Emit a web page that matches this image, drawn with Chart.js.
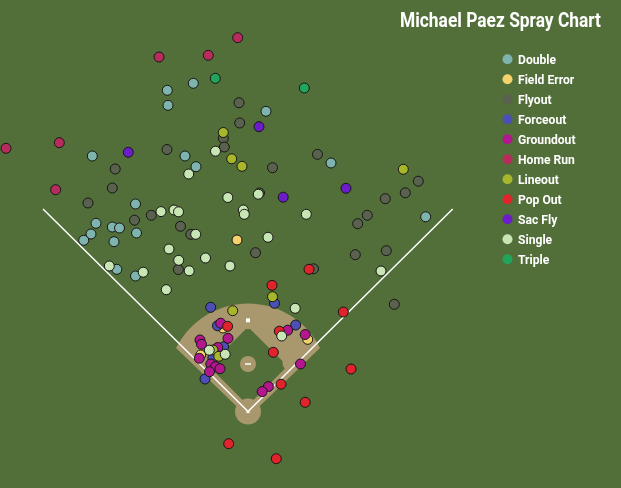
<!DOCTYPE html>
<html>
<head>
<meta charset="utf-8">
<script src="https://cdn.jsdelivr.net/npm/chart.js@4.4.1/dist/chart.umd.min.js"></script>
<style>
  html, body { margin: 0; padding: 0; background: #526f39; }
  #wrap { position: relative; width: 621px; height: 488px; }
</style>
</head>
<body>
<div id="wrap"><canvas id="spray"></canvas></div>
<script>
// hit locations in chart coordinates (x right, y down, home plate at 248,411.5)
const double = [[193.3,83.3],[167.3,90.3],[168,105.3],[266,111.3],[92.3,156],[185,156],[196,166.7],[135.5,204],[96,223.3],[112.3,227],[119.5,228],[91,234],[83.7,240.3],[114,241.7],[136.5,233],[116.8,269.3],[135.5,276],[331,163],[425.7,216.8]];
const fieldError = [[237,240],[223,328],[200.7,355],[307.7,339.3]];
const flyout = [[239,102.7],[239.7,123],[223.3,138.3],[224.3,147],[167,149.5],[272.5,167.7],[317.5,154.3],[115.2,169],[112.3,188],[88,203],[151.3,215.3],[134.5,220.2],[180.5,226.3],[190.8,234.3],[259.5,193],[255.5,252.7],[178.3,269.5],[313.5,268.8],[418.3,181.2],[405.3,192.8],[385.3,198.7],[367.3,215.3],[357.7,223.7],[355.3,254.7],[386.3,250.7],[394.3,304.3]];
const forceout = [[210.7,307.3],[274.5,303.3],[295.7,325],[217.5,325.8],[223.7,346.7],[212.8,358.3],[205,379]];
const groundout = [[220.7,323.2],[228,338.3],[200,340],[201.5,344.3],[217.7,347.5],[199.3,358.3],[210.8,364],[215.5,366.7],[220,368.7],[209.5,371.7],[287.7,330.2],[305.2,334.5],[300.5,364],[268.4,386.6],[262.2,391.6]];
const homeRun = [[237.7,37.7],[159,57],[208.3,55.3],[6,148.3],[59.3,142.7],[55.7,189.7]];
const lineout = [[223.3,132.5],[231.7,158.8],[242,166.3],[403.3,169.3],[272.5,296.7],[232.7,310.7],[213,350],[218.8,356.3]];
const popOut = [[309,269.3],[272,285.3],[227.6,326.3],[279.3,331.2],[273.3,352.3],[281,384.2],[305.2,402.3],[351,369],[343.3,312],[228.7,443.7],[276.3,458.7]];
const sacFly = [[259,126.7],[128.3,152.3],[283.2,197.2],[346,188.3]];
const single = [[215.5,151.2],[188.7,174],[227.8,197.5],[258.3,194.2],[161,211.6],[174,210],[178.5,211.8],[306.3,214.3],[243.3,210],[244.3,214.3],[195.7,234.3],[268,237.3],[169,249],[178.7,260.3],[205.5,258],[230,266],[189.2,270.8],[109.3,266],[143.2,272.2],[166.3,289.7],[381,271],[295.2,308.3],[281.7,336],[209.3,350.2],[225.2,354.3]];
const triple = [[215.3,78.3],[304.3,88]];

const labels = ['Double', 'Field Error', 'Flyout', 'Forceout', 'Groundout', 'Home Run', 'Lineout', 'Pop Out', 'Sac Fly', 'Single', 'Triple'];
const series = [double, fieldError, flyout, forceout, groundout, homeRun, lineout, popOut, sacFly, single, triple];
const colors = ['#7fb4ae', '#f6d26c', '#5a624f', '#4b4fb6', '#b2178e', '#b82c5d', '#a8b62b', '#e1232b', '#6c1dc9', '#c8e6b4', '#21a55c'];

const GRASS = '#526f39';
const DIRT = '#a9976e';

// field layout in the same coordinates as the hits
const home = [248, 411.5];
const second = [248, 320.3];
const mound = [248, 364];
const arcCenter = [248, 384];
const arcRadius = 80.5;
const leftPole = [43, 209];
const rightPole = [452.7, 209];

const fieldPlugin = {
  id: 'field',
  beforeDraw(chart) {
    const ctx = chart.ctx;
    ctx.save();
    ctx.fillStyle = GRASS;
    ctx.fillRect(0, 0, chart.width, chart.height);
    ctx.restore();
  },
  beforeDatasetsDraw(chart) {
    const {ctx, scales: {x, y}} = chart;
    const px = v => x.getPixelForValue(v);
    const py = v => y.getPixelForValue(v);
    const len = d => Math.abs(x.getPixelForValue(d) - x.getPixelForValue(0));
    ctx.save();

    // outer dirt: arc + strips along the foul lines
    const r = len(arcRadius), cx = px(arcCenter[0]), cy = py(arcCenter[1]);
    const a0 = Math.atan2(-36, -72), a1 = Math.atan2(-36, 72);
    ctx.fillStyle = DIRT;
    ctx.beginPath();
    ctx.moveTo(px(home[0]), py(home[1] + 5.7));
    ctx.lineTo(cx + r * Math.cos(a0), cy + r * Math.sin(a0));
    ctx.arc(cx, cy, r, a0, a1, false);
    ctx.closePath();
    ctx.fill();

    // infield grass
    ctx.fillStyle = GRASS;
    ctx.beginPath();
    ctx.moveTo(px(248), py(327));
    ctx.lineTo(px(287.5), py(366));
    ctx.lineTo(px(248), py(405.5));
    ctx.lineTo(px(208.5), py(366));
    ctx.closePath();
    ctx.fill();

    // base cutouts, mound, home circle
    ctx.fillStyle = DIRT;
    [[second, 9], [[291, 363], 8.5], [[205, 363], 8.5], [mound, 8], [home, 13]].forEach(([c, rad]) => {
      ctx.beginPath();
      ctx.arc(px(c[0]), py(c[1]), len(rad), 0, Math.PI * 2);
      ctx.fill();
    });

    // foul lines
    ctx.strokeStyle = '#ffffff';
    ctx.lineWidth = 1.5;
    ctx.beginPath();
    ctx.moveTo(px(leftPole[0]), py(leftPole[1]));
    ctx.lineTo(px(home[0]), py(home[1]));
    ctx.lineTo(px(rightPole[0]), py(rightPole[1]));
    ctx.stroke();

    // bases and rubber
    ctx.fillStyle = '#ffffff';
    ctx.fillRect(px(second[0]) - 2, py(second[1]) - 2, 4, 4);
    ctx.fillRect(px(mound[0]) - 3, py(mound[1]) - 0.75, 6, 1.5);
    ctx.fillRect(px(home[0]) - 1.5, py(home[1]) - 1.5, 3, 3);
    ctx.restore();
  }
};

function squeezedText(ctx, text, x, y, scaleX) {
  ctx.save();
  ctx.translate(x, y);
  ctx.scale(scaleX, 1);
  ctx.fillText(text, 0, 0);
  ctx.restore();
}

const legendPlugin = {
  id: 'sprayLegend',
  afterDraw(chart) {
    const ctx = chart.ctx;
    ctx.save();
    ctx.fillStyle = '#ffffff';
    ctx.textBaseline = 'alphabetic';
    ctx.font = 'bold 21px Roboto, "Noto Sans", sans-serif';
    const title = 'Michael Paez Spray Chart';
    squeezedText(ctx, title, 400, 26.5, 201 / ctx.measureText(title).width);

    ctx.font = 'bold 13.5px Roboto, "Noto Sans", sans-serif';
    const sx = 57.5 / ctx.measureText('Groundout').width;
    chart.data.datasets.forEach((ds, i) => {
      const cy = 59.3 + i * 20;
      ctx.fillStyle = ds.backgroundColor;
      ctx.beginPath();
      ctx.arc(507.5, cy, 5, 0, Math.PI * 2);
      ctx.fill();
      ctx.fillStyle = '#ffffff';
      squeezedText(ctx, ds.label, 518, cy + 4.8, sx);
    });
    ctx.restore();
  }
};

new Chart(document.getElementById('spray'), {
  type: 'scatter',
  data: {
    datasets: labels.map((label, i) => ({
      label: label,
      data: series[i].map(p => ({x: p[0], y: p[1]})),
      backgroundColor: colors[i],
      borderColor: '#161616',
      borderWidth: 1,
      pointRadius: 5,
      pointHoverRadius: 5,
      order: labels.length - i,
      clip: false
    }))
  },
  options: {
    responsive: true,
    maintainAspectRatio: false,
    animation: false,
    layout: { padding: 0, autoPadding: false },
    scales: {
      x: { type: 'linear', min: 0, max: 621, display: false },
      y: { type: 'linear', min: 0, max: 488, reverse: true, display: false }
    },
    plugins: {
      legend: { display: false },
      title: { display: false },
      tooltip: { enabled: false }
    }
  },
  plugins: [fieldPlugin, legendPlugin]
});
</script>
</body>
</html>
